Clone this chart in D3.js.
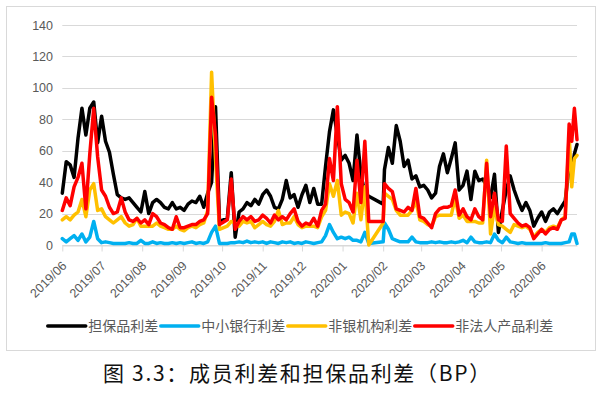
<!DOCTYPE html>
<html><head><meta charset="utf-8">
<script src="https://cdn.jsdelivr.net/npm/d3@7"></script>
<style>body{margin:0;background:#fff;} svg{display:block;}</style>
</head><body>
<svg id="chart" width="604" height="393"></svg>
<script>
// ---- data ----
const dates = [
"2019-06-03","2019-06-06","2019-06-09","2019-06-12","2019-06-15","2019-06-18","2019-06-21","2019-06-24","2019-06-27","2019-06-30",
"2019-07-03","2019-07-06","2019-07-09","2019-07-12","2019-07-15","2019-07-18","2019-07-21","2019-07-24","2019-07-27","2019-07-30",
"2019-08-02","2019-08-05","2019-08-08","2019-08-11","2019-08-14","2019-08-17","2019-08-20","2019-08-23","2019-08-26","2019-08-29",
"2019-09-01","2019-09-04","2019-09-07","2019-09-10","2019-09-13","2019-09-16","2019-09-19","2019-09-22","2019-09-25","2019-09-28",
"2019-10-01",
"2019-10-07","2019-10-10","2019-10-13","2019-10-16","2019-10-19","2019-10-22","2019-10-25","2019-10-28","2019-10-31",
"2019-11-03","2019-11-06","2019-11-09","2019-11-12","2019-11-15","2019-11-18","2019-11-21","2019-11-24","2019-11-27","2019-11-30",
"2019-12-03","2019-12-06","2019-12-09","2019-12-12","2019-12-15","2019-12-18","2019-12-21","2019-12-24","2019-12-27","2019-12-30",
"2020-01-02","2020-01-05","2020-01-08","2020-01-11","2020-01-14","2020-01-17","2020-01-20","2020-01-23",
"2020-02-03",
"2020-02-04","2020-02-07","2020-02-10","2020-02-13","2020-02-16","2020-02-19","2020-02-22","2020-02-25","2020-02-28",
"2020-03-02","2020-03-05","2020-03-08","2020-03-11","2020-03-14","2020-03-17","2020-03-20","2020-03-23","2020-03-26","2020-03-29",
"2020-04-01","2020-04-04","2020-04-07","2020-04-10","2020-04-13","2020-04-16","2020-04-19","2020-04-22","2020-04-25","2020-04-28",
"2020-05-01","2020-05-04","2020-05-07","2020-05-10","2020-05-13","2020-05-16","2020-05-19","2020-05-22","2020-05-25","2020-05-28",
"2020-05-31","2020-06-03","2020-06-06","2020-06-09","2020-06-12","2020-06-15","2020-06-18","2020-06-21",
"2020-06-24","2020-06-26","2020-06-28","2020-06-30"
];

// 担保品利差
const collateralSpread = [
33,53,51,43,68,87,70,87,91,65,
82,66,59,45,32,30,29,30,27,24,
21,34,20,27,29,27,24,23,27,23,
24,22,26,28,27,31,24,33,40,88,
15,
17,46,5,21,23,27,25,29,26,
32,35,31,24,23,29,41,30,32,24,
32,38,27,36,26,26,50,72,86,70,
54,57,52,41,70,45,33,31,
26,
48,62,52,76,66,50,54,42,44,
37,38,35,30,33,50,58,46,55,65,
35,38,47,29,47,41,42,38,30,45,
8,22,35,44,35,28,22,27,22,12,
17,21,15,21,23,20,24,28,
50,45,58,64
];

// 中小银行利差
const smallBankSpread = [
4,2,4,6,3,7,2,5,15,4,
1.5,2,1.5,1,1,1,1,1.5,1,1,
3,1,1,2,1,1.5,1,1,1.5,1,
1.5,1,1.5,2,1,1.5,1,2,8,12,
1,
1,1.5,1.5,2,1.5,2.5,1.5,2,1.5,
2,1,2,1.5,1,2,1.5,2,1,1.5,
1,2,1.5,1,1.5,2,6,13,8,4,
5,4,5,3,3,2,8,1,
2,
14,10,4,3,2,2,2,5,2,
1.5,1.5,1.5,2,1.5,2,1.5,1.5,2,1.5,
2,3,1.5,5,2,1.5,1.5,2,1.5,7,
3,1.5,5,2,1.5,1,1.5,1,1,1,
1,1,1.5,1,1,1,1,1.5,
2,7,7,1
];

// 非银机构利差
const nonBankSpread = [
16,18,16,19,21,29,18,35,39,22,
23,18,16,14,16,18,14,12,13,17,
12,12,12,12,14,12,11,10,10,12,
10,9,11,12,11,13,14,22,110,55,
10,
12,15,14,12,15,14,15,11,13,
15,13,12,15,22,13,14,14,18,13,
11,12,12,12,11,18,22,39,31,41,
19,21,20,14,33,16,37,0,
14,
33,31,29,22,19,19,19,22,28,
16,15,13,12,18,19,19,19,19,30,
17,19,15,15,15,14,14,54,7,24,
13,12,10,8,13,12,11,12,10,5,
8,10,8,11,12,11,16,18,
70,37,55,57
];

// 非法人产品利差
const nonLegalSpread = [
22,30,25,37,43,52,23,58,87,56,
35,31,24,20,21,30,21,16,15,17,
14,16,13,20,18,14,13,11,10,18,
11,11,12,13,13,15,16,20,94,70,
13,
16,42,10,15,18,16,18,15,16,
19,17,14,19,16,18,16,20,23,15,
12,14,13,17,12,22,26,55,41,88,
39,29,27,21,54,27,66,15,
15,
39,36,34,23,22,21,24,22,36,
18,17,14,11,20,23,24,24,25,35,
19,23,18,16,23,18,16,52,18,33,
16,15,63,20,17,14,12,13,11,4,
7,10,7,10,11,10,16,17,
77,66,87,67
];

const seriesNames = ["担保品利差", "中小银行利差", "非银机构利差", "非法人产品利差"];
const seriesColors = ["#000000", "#00B0F0", "#FFC000", "#FF0000"];
const yTickValues = [0, 20, 40, 60, 80, 100, 120, 140];
const chartTitle = "图 3.3：成员利差和担保品利差（BP）";

// ---- drawing ----
const svg = d3.select("#chart");
const parse = d3.timeParse("%Y-%m-%d");
const X = dates.map(parse);
const allSeries = [collateralSpread, smallBankSpread, nonBankSpread, nonLegalSpread];

const plotLeft = 62.3, plotRight = 577, plotTop = 25, plotBottom = 245;
const x = d3.scaleTime().domain(d3.extent(X)).range([plotLeft, plotRight]);
const y = d3.scaleLinear().domain([0, 140]).range([plotBottom, plotTop]);

svg.append("rect").attr("x", 0).attr("y", 0).attr("width", 604).attr("height", 393).attr("fill", "#fff");
svg.append("rect").attr("x", 6.5).attr("y", 6.5).attr("width", 589).attr("height", 344)
  .attr("fill", "#fff").attr("stroke", "#d9d9d9").attr("stroke-width", 1);

// gridlines
svg.append("g").selectAll("line").data(yTickValues).join("line")
  .attr("x1", plotLeft).attr("x2", plotRight)
  .attr("y1", d => Math.round(y(d)) + 0.5).attr("y2", d => Math.round(y(d)) + 0.5)
  .attr("stroke", "#d9d9d9").attr("stroke-width", 1);

// y labels
svg.append("g").selectAll("text").data(yTickValues).join("text")
  .attr("x", 53).attr("y", d => y(d) + 4.5)
  .attr("text-anchor", "end")
  .attr("font-family", "'Liberation Sans', Arial, sans-serif")
  .attr("font-size", 12.5).attr("fill", "#595959")
  .text(d => d);

// x axis ticks (monthly from first date)
const startDate = X[0];
const monthTicks = d3.range(0, 13).map(i => d3.timeMonth.offset(startDate, i));
const fmt = d3.timeFormat("%Y/%m");
const xAxis = d3.axisBottom(x).tickValues(monthTicks).tickSize(6).tickSizeOuter(0).tickFormat(fmt);
const gx = svg.append("g").attr("transform", `translate(0,${Math.round(plotBottom) + 0.5})`).call(xAxis);
gx.select(".domain").attr("stroke", "#d9d9d9");
gx.selectAll(".tick line").attr("stroke", "#d9d9d9");
gx.selectAll(".tick text")
  .attr("font-family", "'Liberation Sans', Arial, sans-serif")
  .attr("font-size", 12.5).attr("fill", "#595959")
  .attr("text-anchor", "end")
  .attr("dy", null).attr("y", 0)
  .attr("transform", "translate(4.5,21) rotate(-45)");

// series lines
const line = d3.line().x((d, i) => x(X[i])).y(d => y(d));
svg.append("g").selectAll("path").data(allSeries).join("path")
  .attr("d", line)
  .attr("fill", "none")
  .attr("stroke", (d, i) => seriesColors[i])
  .attr("stroke-width", 3.5)
  .attr("stroke-linejoin", "round")
  .attr("stroke-linecap", "round");

// legend
const lg = svg.append("g");
const legY = 326;
const items = seriesNames.map((name, i) => {
  const t = lg.append("text").attr("y", legY + 5)
    .attr("font-family", "'Noto Sans CJK SC', sans-serif")
    .attr("font-size", 14).attr("fill", "#595959").text(name);
  return { t, w: t.node().getComputedTextLength(), i };
});
const lineLen = 38, gap = 2.5;
const total = d3.sum(items, d => lineLen + gap + d.w + gap) - gap;
let cx = 300.5 - total / 2;
items.forEach(it => {
  lg.append("line").attr("x1", cx).attr("x2", cx + lineLen).attr("y1", legY).attr("y2", legY)
    .attr("stroke", seriesColors[it.i]).attr("stroke-width", 3.5).attr("stroke-linecap", "round");
  it.t.attr("x", cx + lineLen + gap);
  cx += lineLen + gap + it.w + gap;
});

// title
svg.append("text").attr("x", 103).attr("y", 381)
  .attr("font-family", "'Noto Sans CJK SC', sans-serif")
  .attr("font-size", 21).attr("letter-spacing", "1.7px").attr("fill", "#111")
  .text(chartTitle);
</script>
</body></html>
